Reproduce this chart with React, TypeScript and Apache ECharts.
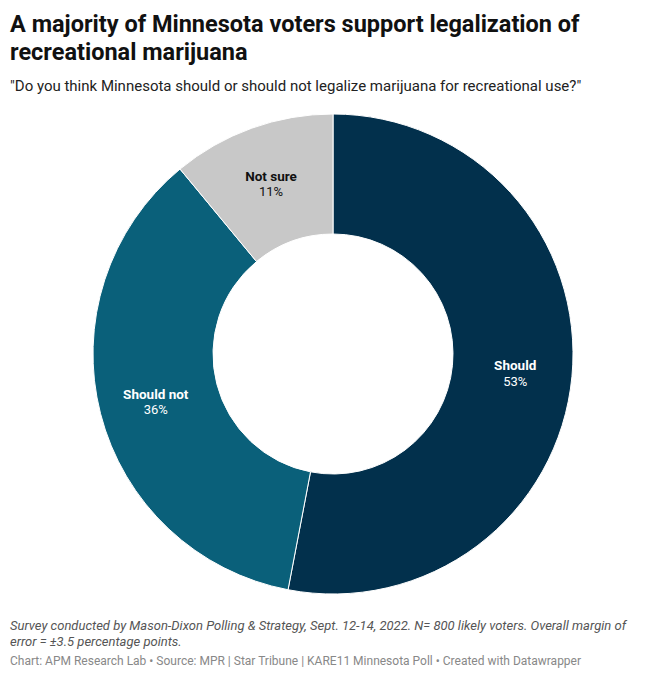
import { useEffect, useRef } from 'react';
import * as echarts from 'echarts';

const categories = ['Should', 'Should not', 'Not sure'];
const shares = [53, 36, 11];
const sliceColors = ['#02304c', '#0a607a', '#c8c8c8'];
const labelColors = ['#ffffff', '#ffffff', '#111111'];

const titleLines = [
    'A majority of Minnesota voters support legalization of',
    'recreational marijuana',
];
const subtitle = '"Do you think Minnesota should or should not legalize marijuana for recreational use?"';
const notes = [
    'Survey conducted by Mason-Dixon Polling & Strategy, Sept. 12-14, 2022. N= 800 likely voters. Overall margin of',
    'error = ±3.5 percentage points.',
];
const credit = 'Chart: APM Research Lab • Source: MPR | Star Tribune | KARE11 Minnesota Poll • Created with Datawrapper';

const font = 'Roboto, "Noto Sans", sans-serif';

const App = () => {
    const chartRef = useRef<HTMLDivElement | null>(null);

    useEffect(() => {
        document.body.style.margin = '0';
        if (!chartRef.current) return;
        const chart = echarts.init(chartRef.current, null, { renderer: 'svg' });

        const texts: any[] = [
            ...titleLines.map((t, i) => ({
                type: 'text', left: 10, top: 12 + i * 28,
                style: { text: t, font: `bold 23.5px ${font}`, fill: '#111' },
            })),
            {
                type: 'text', left: 10, top: 78,
                style: { text: subtitle, font: `15px ${font}`, fill: '#222' },
            },
            ...notes.map((t, i) => ({
                type: 'text', left: 10, top: 619 + i * 16,
                style: { text: t, font: `italic 13px ${font}`, fill: '#555' },
            })),
            {
                type: 'text', left: 10, top: 655,
                style: { text: credit, font: `12px ${font}`, fill: '#888' },
            },
        ];

        chart.setOption({
            animation: false,
            textStyle: { fontFamily: font },
            graphic: texts,
            series: [
                {
                    type: 'pie',
                    center: [333, 354],
                    radius: [120, 240],
                    startAngle: 90,
                    clockwise: true,
                    silent: true,
                    itemStyle: { borderColor: '#ffffff', borderWidth: 1 },
                    label: {
                        show: true,
                        position: 'inside',
                        offset: [0, 2],
                        formatter: (p: any) => `{n|${p.name}}\n{v|${p.value}%}`,
                        rich: {
                            n: { fontWeight: 'bold', fontSize: 13.5, lineHeight: 16, fontFamily: font },
                            v: { fontSize: 13, lineHeight: 16, fontFamily: font },
                        },
                    },
                    labelLine: { show: false },
                    data: categories.map((name, i) => ({
                        name,
                        value: shares[i],
                        itemStyle: { color: sliceColors[i] },
                        label: { color: labelColors[i] },
                    })),
                },
            ],
        });

        return () => chart.dispose();
    }, []);

    return <div ref={chartRef} style={{ width: '666px', height: '680px' }} />;
};

export default App;
